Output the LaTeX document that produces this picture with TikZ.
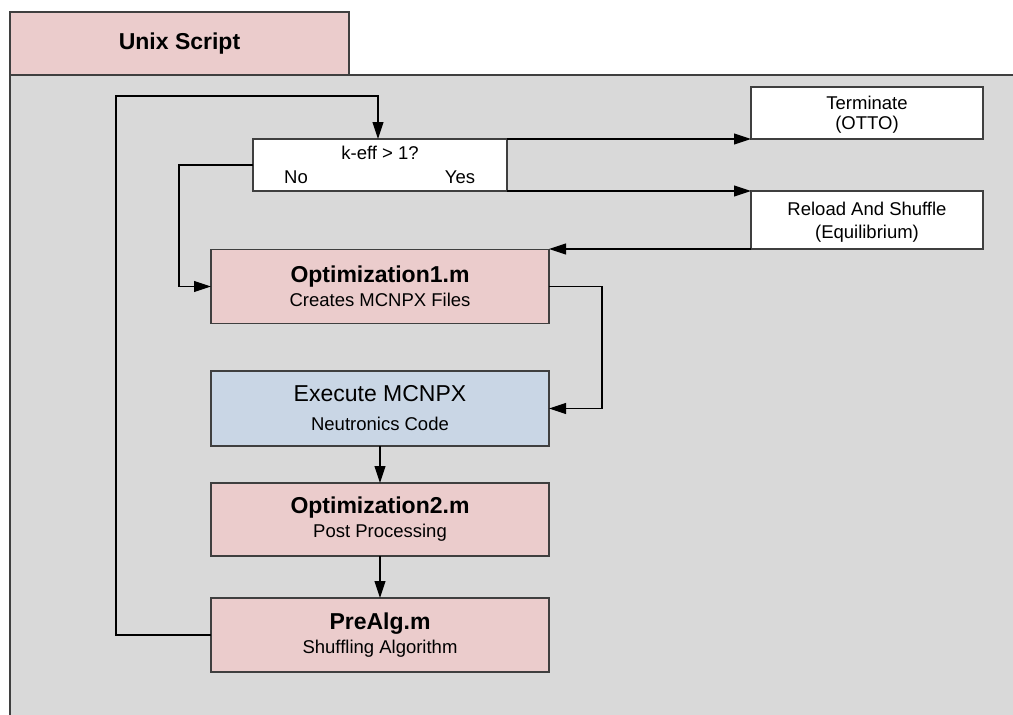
\documentclass[tikz,border=0pt]{standalone}
\usepackage{fontspec}
\setmainfont{Liberation Sans}
\usetikzlibrary{arrows.meta}
\definecolor{panelgray}{HTML}{D9D9D9}
\definecolor{scriptpink}{HTML}{EBCCCC}
\definecolor{codeblue}{HTML}{C9D6E5}
\definecolor{edgegray}{HTML}{3F3F3F}
\newcommand{\smallsz}{\fontsize{18.5}{25}\selectfont}
\newcommand{\bigsz}{\fontsize{23}{25}\selectfont}
\tikzset{
  box/.style={draw=edgegray, line width=1.4pt, align=center, inner sep=0pt,
    outer sep=0pt, font=\smallsz},
  pinkbox/.style={box, fill=scriptpink, minimum width=338, minimum height=74},
  whitebox/.style={box, fill=white},
  lbl/.style={inner sep=0pt, font=\smallsz},
  flow/.style={line width=1.1pt, -{Triangle[length=17pt,width=11pt]}}
}
\begin{document}
\begin{tikzpicture}[x=1pt,y=-1pt]
\useasboundingbox (0,0) rectangle (1013,715);
% panel behind the flow chart
\fill[panelgray] (10,75) rectangle (1013,715);
\draw[edgegray, line width=1.4pt] (10,715) -- (10,75) -- (1013,75);
\node[box, fill=scriptpink, minimum width=339, minimum height=63,
  font=\bfseries\bigsz] (unix) at (179.5,43.5) {Unix Script};

% decision
\node[whitebox, minimum width=254, minimum height=52] (decision) at (380,165) {};
\node[lbl] (question) at (380,153) {k-eff > 1?};
\node[lbl] (no) at (296,177) {No};
\node[lbl] (yes) at (460,177) {Yes};

% outcomes
\node[whitebox, minimum width=232, minimum height=52] (terminate) at (867,113) {};
\node[lbl] (termA) at (867,102.5) {Terminate};
\node[lbl] (termB) at (867,125) {(OTTO)};
\node[whitebox, minimum width=232, minimum height=58] (reload) at (867,220) {};
\node[lbl] (reloadA) at (867,208.5) {Reload And Shuffle};
\node[lbl] (reloadB) at (867,234) {(Equilibrium)};

% processing steps
\node[pinkbox] (opt1) at (380,286.5)
  {{\bfseries\bigsz Optimization1.m}\\[-1pt]Creates MCNPX Files};
\node[box, fill=codeblue, minimum width=338, minimum height=75] (exec) at (380,408.5)
  {{\bigsz Execute MCNPX}\\[4pt]Neutronics Code};
\node[pinkbox, minimum height=73] (opt2) at (380,519.5)
  {{\bfseries\bigsz Optimization2.m}\\[-1pt]Post Processing};
\node[pinkbox] (prealg) at (380,635)
  {{\bfseries\bigsz PreAlg.m}\\[-1pt]Shuffling Algorithm};

% connectors
\coordinate (loop) at (116,96);
\draw[flow] (prealg.west) -| (loop) -| ([xshift=-2pt]decision.north);
\draw[flow] (decision.north east) -- (decision.north east -| terminate.west);
\draw[flow] (decision.south east) -- (reload.north west);
\draw[flow] (reload.south west) -- (reload.south west -| opt1.east);
\draw[flow] (decision.west) -- ++(-74,0) |- (opt1.west);
\draw[flow] (opt1.east) -- ++(53,0) |- (exec.east);
\draw[flow] (exec.south) -- (opt2.north);
\draw[flow] (opt2.south) -- (prealg.north);
\end{tikzpicture}
\end{document}
